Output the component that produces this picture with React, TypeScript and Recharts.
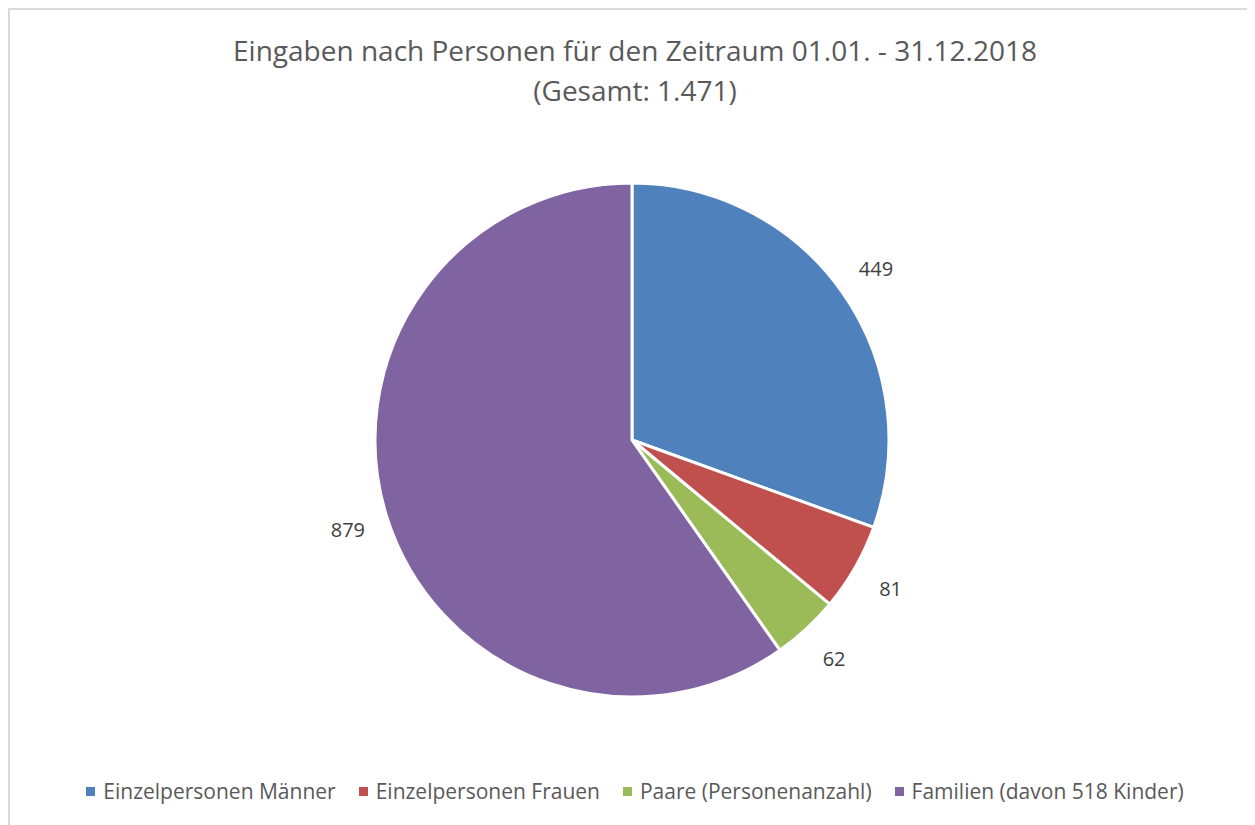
import { PieChart, Pie, Cell, Legend } from "recharts"

const categories = [
  "Einzelpersonen Männer",
  "Einzelpersonen Frauen",
  "Paare (Personenanzahl)",
  "Familien (davon 518 Kinder)",
]
const counts = [449, 81, 62, 879]
const colors = ["#4F81BD", "#C0504D", "#9BBB59", "#8064A2"]
const titleLines = ["Eingaben nach Personen für den Zeitraum 01.01. - 31.12.2018", "(Gesamt: 1.471)"]

const data = categories.map((name, i) => ({ name, value: counts[i] }))

const FONT = "'Open Sans', 'DejaVu Sans', sans-serif"
const RAD = Math.PI / 180

const renderLabel = (props: any) => {
  const { cx, cy, midAngle, outerRadius, value } = props
  const r = outerRadius + 41
  const x = cx + r * Math.cos(-midAngle * RAD)
  const y = cy + r * Math.sin(-midAngle * RAD)
  return (
    <text
      x={x}
      y={y}
      fill="#404040"
      fontSize={20}
      fontFamily={FONT}
      textAnchor="middle"
      dominantBaseline="central"
    >
      {value}
    </text>
  )
}

const LegendContent = () => (
  <div
    style={{
      display: "flex",
      justifyContent: "center",
      fontFamily: FONT,
      fontSize: 21,
      color: "#595959",
    }}
  >
    {categories.map((name, i) => (
      <div key={name} style={{ display: "flex", alignItems: "center", marginRight: i < categories.length - 1 ? 23 : 0 }}>
        <span style={{ width: 9, height: 9, background: colors[i], display: "inline-block", marginRight: 8 }} />
        <span>{name}</span>
      </div>
    ))}
  </div>
)

export default function App() {
  return (
    <div
      style={{
        position: "relative",
        width: 1247,
        height: 817,
        borderTop: "2px solid #d9d9d9",
        borderLeft: "2px solid #d9d9d9",
        boxSizing: "border-box",
        background: "#fff",
      }}
    >
      <div
        style={{
          position: "absolute",
          top: 20,
          left: 0,
          width: 1250,
          textAlign: "center",
          fontFamily: FONT,
          fontSize: 28,
          lineHeight: "40px",
          color: "#595959",
        }}
      >
        {titleLines.map((t) => (
          <div key={t}>{t}</div>
        ))}
      </div>
      <div style={{ position: "absolute", top: 0, left: 0 }}>
        <PieChart width={1245} height={815}>
          <Pie
            data={data}
            dataKey="value"
            nameKey="name"
            cx={617}
            cy={425}
            outerRadius={257}
            startAngle={90}
            endAngle={-270}
            stroke="#fff"
            strokeWidth={3}
            label={renderLabel}
            labelLine={false}
            isAnimationActive={false}
          >
            {data.map((entry, index) => (
              <Cell key={`cell-${index}`} fill={colors[index]} />
            ))}
          </Pie>
          <Legend
            content={<LegendContent />}
            wrapperStyle={{ position: "absolute", top: 767, left: 0, width: 1250 }}
          />
        </PieChart>
      </div>
    </div>
  )
}
